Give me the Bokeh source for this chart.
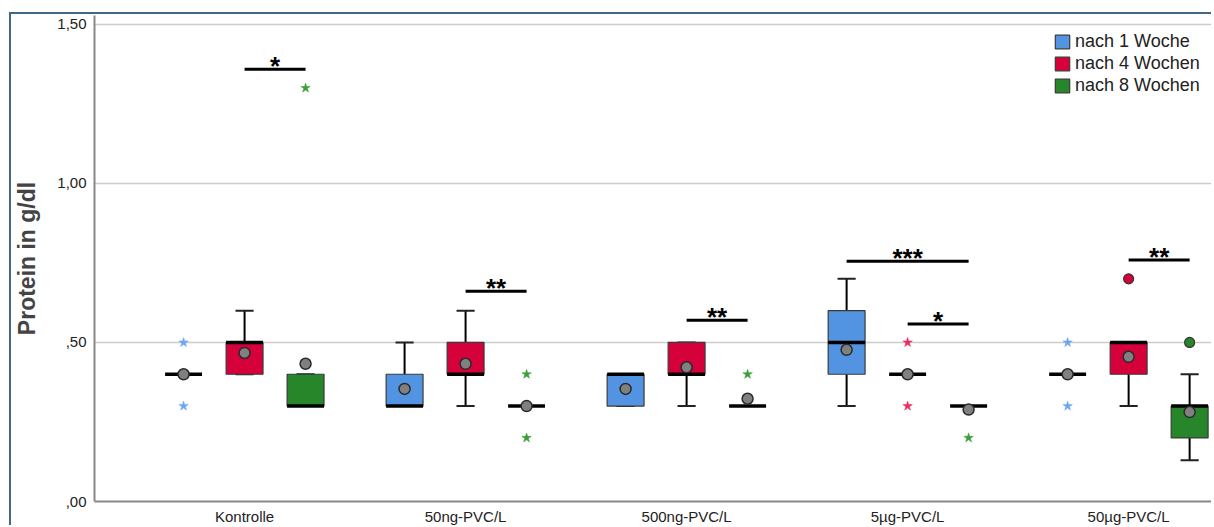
from bokeh.plotting import figure
from bokeh.models import ColumnDataSource, FixedTicker, Legend, LegendItem, Range1d, InlineStyleSheet
from bokeh.embed import file_html
from bokeh.resources import INLINE
from bokeh.core.properties import value

# ---------------- data ----------------
categories = ["Kontrolle", "50ng-PVC/L", "500ng-PVC/L", "5µg-PVC/L", "50µg-PVC/L"]
series_names = ["nach 1 Woche", "nach 4 Wochen", "nach 8 Wochen"]

# nach 1 Woche
w1_q1 = [0.40, 0.30, 0.30, 0.40, 0.40]
w1_q3 = [0.40, 0.40, 0.40, 0.60, 0.40]
w1_med = [0.40, 0.30, 0.40, 0.50, 0.40]
w1_lo = [0.40, 0.30, 0.30, 0.30, 0.40]
w1_hi = [0.40, 0.50, 0.40, 0.70, 0.40]
w1_mean = [0.40, 0.354, 0.354, 0.477, 0.40]
w1_ext_cat = [0, 0, 4, 4]
w1_ext_val = [0.50, 0.30, 0.50, 0.30]
w1_out_cat = []
w1_out_val = []

# nach 4 Wochen
w4_q1 = [0.40, 0.40, 0.40, 0.40, 0.40]
w4_q3 = [0.50, 0.50, 0.50, 0.40, 0.50]
w4_med = [0.50, 0.40, 0.40, 0.40, 0.50]
w4_lo = [0.40, 0.30, 0.30, 0.40, 0.30]
w4_hi = [0.60, 0.60, 0.50, 0.40, 0.50]
w4_mean = [0.467, 0.433, 0.422, 0.40, 0.455]
w4_ext_cat = [3, 3]
w4_ext_val = [0.50, 0.30]
w4_out_cat = [4]
w4_out_val = [0.70]

# nach 8 Wochen
w8_q1 = [0.30, 0.30, 0.30, 0.30, 0.20]
w8_q3 = [0.40, 0.30, 0.30, 0.30, 0.30]
w8_med = [0.30, 0.30, 0.30, 0.30, 0.30]
w8_lo = [0.30, 0.30, 0.30, 0.30, 0.13]
w8_hi = [0.40, 0.30, 0.30, 0.30, 0.40]
w8_mean = [0.433, 0.30, 0.323, 0.289, 0.281]
w8_ext_cat = [0, 1, 1, 2, 3]
w8_ext_val = [1.30, 0.40, 0.20, 0.40, 0.20]
w8_out_cat = [4]
w8_out_val = [0.50]

# significance brackets: category, from series, to series, height, label
sig_cat = [0, 1, 2, 3, 3, 4]
sig_from = [1, 1, 1, 0, 1, 1]
sig_to = [2, 2, 2, 2, 2, 2]
sig_y = [1.359, 0.661, 0.570, 0.755, 0.558, 0.759]
sig_label = ["*", "**", "**", "***", "*", "**"]

y_ticks = [0.0, 0.5, 1.0, 1.5]
y_tick_labels = [",00", ",50", "1,00", "1,50"]

# ---------------- styling ----------------
FONT = "Liberation Sans"
box_colors = ["#5394e2", "#d6003a", "#28862a"]
star_colors = ["#6aa8f2", "#e8305f", "#3a9e3a"]
offsets = [-0.276, 0.0, 0.276]
BW = 0.167   # box width
CW = 0.082   # whisker cap width

p = figure(width=1202, height=513, output_backend="svg", toolbar_location=None,
           x_range=Range1d(0.321, 5.384), y_range=Range1d(0, 1.528),
           min_border_left=83, min_border_right=0, min_border_top=1, min_border_bottom=20)
p.stylesheets = [InlineStyleSheet(css=":host { border-top: 2px solid #41697f; "
                                      "border-left: 2px solid #41697f; "
                                      "margin-top: 12px; margin-left: 9px; }")]
p.outline_line_color = None
p.background_fill_color = "white"
p.xgrid.grid_line_color = None
p.ygrid.grid_line_color = "#cccccc"
p.ygrid.grid_line_width = 1.5

p.yaxis.ticker = FixedTicker(ticks=y_ticks)
p.yaxis.major_label_overrides = {t: l for t, l in zip(y_ticks, y_tick_labels)}
p.yaxis.axis_label = "Protein in g/dl"
p.yaxis.axis_label_text_font = FONT
p.yaxis.axis_label_text_font_style = "bold"
p.yaxis.axis_label_text_font_size = "23px"
p.yaxis.axis_label_standoff = 14
p.yaxis.major_label_text_font = FONT
p.yaxis.major_label_text_font_size = "15px"
p.yaxis.major_label_text_color = "#222222"
p.yaxis.major_label_standoff = 8
p.yaxis.major_tick_line_color = None
p.yaxis.major_tick_out = 0
p.yaxis.major_tick_in = 0
p.yaxis.minor_tick_line_color = None
p.yaxis.axis_line_color = "#888888"
p.yaxis.axis_line_width = 2

p.xaxis.ticker = FixedTicker(ticks=[i + 1 for i in range(len(categories))])
p.xaxis.major_label_overrides = {i + 1: c for i, c in enumerate(categories)}
p.xaxis.major_label_text_font = FONT
p.xaxis.major_label_text_font_size = "15px"
p.xaxis.major_label_text_color = "#222222"
p.xaxis.major_label_standoff = 6
p.xaxis.major_tick_line_color = None
p.xaxis.major_tick_out = 0
p.xaxis.major_tick_in = 0
p.xaxis.minor_tick_line_color = None
p.xaxis.axis_line_color = "#888888"
p.xaxis.axis_line_width = 2

all_series = [
    (w1_q1, w1_q3, w1_med, w1_lo, w1_hi, w1_mean, w1_ext_cat, w1_ext_val, w1_out_cat, w1_out_val),
    (w4_q1, w4_q3, w4_med, w4_lo, w4_hi, w4_mean, w4_ext_cat, w4_ext_val, w4_out_cat, w4_out_val),
    (w8_q1, w8_q3, w8_med, w8_lo, w8_hi, w8_mean, w8_ext_cat, w8_ext_val, w8_out_cat, w8_out_val),
]

legend_items = []
mean_sources = []
for s, (q1, q3, med, lo, hi, mean, ecat, evals, ocat, ovals) in enumerate(all_series):
    xs = [i + 1 + offsets[s] for i in range(len(categories))]
    src = ColumnDataSource(dict(
        x=xs, left=[x - BW / 2 for x in xs], right=[x + BW / 2 for x in xs],
        cl=[x - CW / 2 for x in xs], cr=[x + CW / 2 for x in xs],
        q1=q1, q3=q3, med=med, lo=lo, hi=hi, mean=mean))
    # whiskers
    p.segment(x0="x", y0="q3", x1="x", y1="hi", source=src, line_color="black", line_width=2)
    p.segment(x0="x", y0="q1", x1="x", y1="lo", source=src, line_color="black", line_width=2)
    p.segment(x0="cl", y0="hi", x1="cr", y1="hi", source=src, line_color="#222222", line_width=2)
    p.segment(x0="cl", y0="lo", x1="cr", y1="lo", source=src, line_color="#222222", line_width=2)
    # box
    r = p.quad(left="left", right="right", bottom="q1", top="q3", source=src,
               fill_color=box_colors[s], line_color="#3a3a3a", line_width=1.2)
    legend_items.append(LegendItem(label=series_names[s], renderers=[r]))
    # median
    p.segment(x0="left", y0="med", x1="right", y1="med", source=src, line_color="black", line_width=3.5)
    mean_sources.append(src)
    # extremes (stars)
    if ecat:
        esrc = ColumnDataSource(dict(x=[c + 1 + offsets[s] for c in ecat], y=evals))
        p.scatter("x", "y", source=esrc, marker="star", size=10, fill_color=star_colors[s],
                  line_color=star_colors[s], line_width=0.5)
    if ocat:
        osrc = ColumnDataSource(dict(x=[c + 1 + offsets[s] for c in ocat], y=ovals))
        p.scatter("x", "y", source=osrc, marker="circle", size=10, fill_color=box_colors[s],
                  line_color="#333333", line_width=1.2)

# means on top
for src in mean_sources:
    p.scatter("x", "mean", source=src, marker="circle", size=11, fill_color="#808080",
              line_color="#2a2a2a", line_width=1.5)

# significance brackets
sig_src = ColumnDataSource(dict(
    x0=[c + 1 + offsets[f] for c, f in zip(sig_cat, sig_from)],
    x1=[c + 1 + offsets[t] for c, t in zip(sig_cat, sig_to)],
    xm=[c + 1 + (offsets[f] + offsets[t]) / 2 for c, f, t in zip(sig_cat, sig_from, sig_to)],
    y=sig_y, label=sig_label))
p.segment(x0="x0", y0="y", x1="x1", y1="y", source=sig_src, line_color="black", line_width=3)
p.text(x="xm", y="y", text="label", source=sig_src, text_font=value(FONT),
       text_font_size="26px", text_font_style="bold", text_align="center",
       text_baseline="middle", y_offset=-3, text_color="black")

legend = Legend(items=legend_items, location=(959, 405), orientation="vertical",
                glyph_width=18, glyph_height=17, label_height=20, spacing=1, padding=0,
                label_standoff=4, label_text_font=FONT, label_text_font_size="18px",
                label_text_color="#222222", border_line_color=None,
                background_fill_alpha=0)
p.add_layout(legend)

open("out.html", "w").write(file_html(p, INLINE))
